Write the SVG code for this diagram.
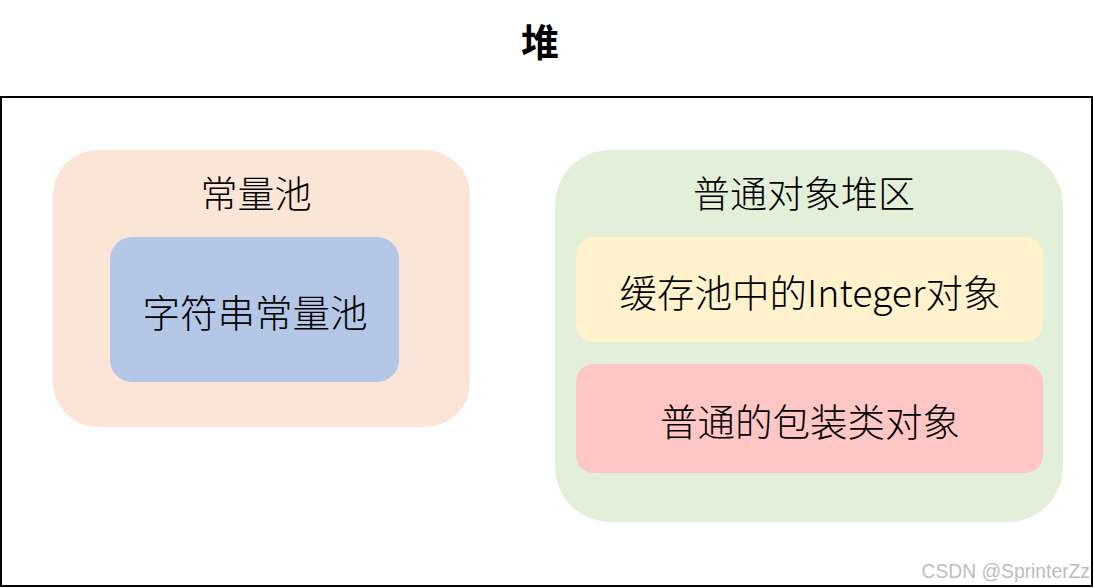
<svg xmlns="http://www.w3.org/2000/svg" width="1094" height="588" viewBox="0 0 1094 588">
<style>
text{font-family:"Noto Sans CJK SC","Noto Sans",sans-serif;fill:#000;text-anchor:middle;dominant-baseline:central}
.lbl{font-size:37px;font-weight:300}
.in{font-size:37.5px;font-weight:300}
</style>
<rect x="0" y="0" width="1094" height="588" fill="#fff"/>
<g id="heap">
<text x="540" y="39" style="font-size:38px;font-weight:bold">堆</text>
<rect x="1" y="97" width="1091" height="489" fill="none" stroke="#000" stroke-width="2"/>
</g>
<g id="constant-pool">
<rect x="53" y="150" width="417" height="277" rx="45" fill="#FBE5D6"/>
<text class="lbl" x="256" y="192">常量池</text>
</g>
<g id="string-pool">
<rect x="110" y="237" width="289" height="145" rx="22" fill="#B4C7E7"/>
<text class="in" x="255" y="310">字符串常量池</text>
</g>
<g id="object-heap">
<rect x="555" y="150" width="508" height="372" rx="55" fill="#E2F0D9"/>
<text class="lbl" x="804" y="192">普通对象堆区</text>
</g>
<g id="integer-cache">
<rect x="576" y="237" width="467" height="105" rx="18" fill="#FFF2CC"/>
<text class="in" x="810" y="290">缓存池中的Integer对象</text>
</g>
<g id="wrapper-objects">
<rect x="576" y="364" width="467" height="109" rx="18" fill="#FFC6C6"/>
<text class="in" x="810" y="419">普通的包装类对象</text>
</g>
<g id="connectors"></g>
<text x="1090" y="571" style="font-family:'Liberation Sans',Arial,sans-serif;font-size:19.3px;fill:#bdbdbd;text-anchor:end">CSDN @SprinterZz</text>
</svg>
